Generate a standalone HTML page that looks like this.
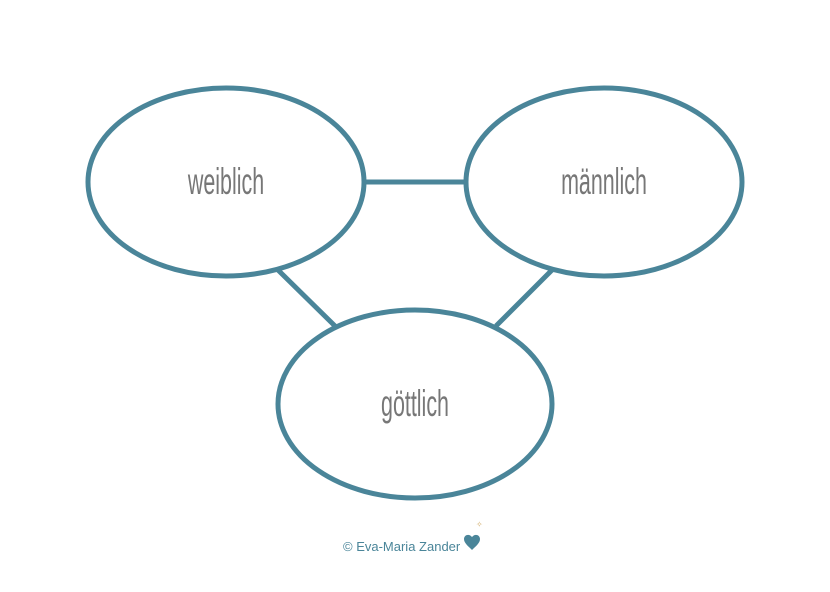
<!DOCTYPE html>
<html><head><meta charset="utf-8"><style>body{margin:0;background:#fff}</style></head><body>
<svg width="830" height="587" viewBox="0 0 830 587" xmlns="http://www.w3.org/2000/svg">
<g stroke="#4a8599" stroke-width="5" fill="none">
<line x1="362" y1="182" x2="468" y2="182"/>
<line x1="278" y1="270" x2="335" y2="326"/>
<line x1="552" y1="270" x2="496" y2="326"/>
<ellipse cx="226" cy="182" rx="138" ry="94" fill="#fff"/>
<ellipse cx="604" cy="182" rx="138" ry="94" fill="#fff"/>
<ellipse cx="415" cy="404" rx="137" ry="94" fill="#fff"/>
</g>
<g font-family="'Liberation Sans Narrow','Liberation Sans',sans-serif" font-size="37" fill="#777" text-anchor="middle">
<text x="226" y="194" transform="translate(226 0) scale(0.58 1) translate(-226 0)">weiblich</text>
<text x="604" y="194" transform="translate(604 0) scale(0.58 1) translate(-604 0)">männlich</text>
<text x="415" y="416" transform="translate(415 0) scale(0.58 1) translate(-415 0)">göttlich</text>
</g>
<text x="343" y="551" font-family="'Liberation Sans',sans-serif" font-size="13" fill="#4a8599">© Eva-Maria Zander</text>
<path d="M472 550 c-4 -4 -8 -7 -8 -11 c0 -4 5 -6 8 -2 c3 -4 8 -2 8 2 c0 4 -4 7 -8 11z" fill="#4a8599"/>
<text x="476" y="527" font-size="8" fill="#d4b070" font-family="sans-serif">✧</text>
</svg>
</body></html>
